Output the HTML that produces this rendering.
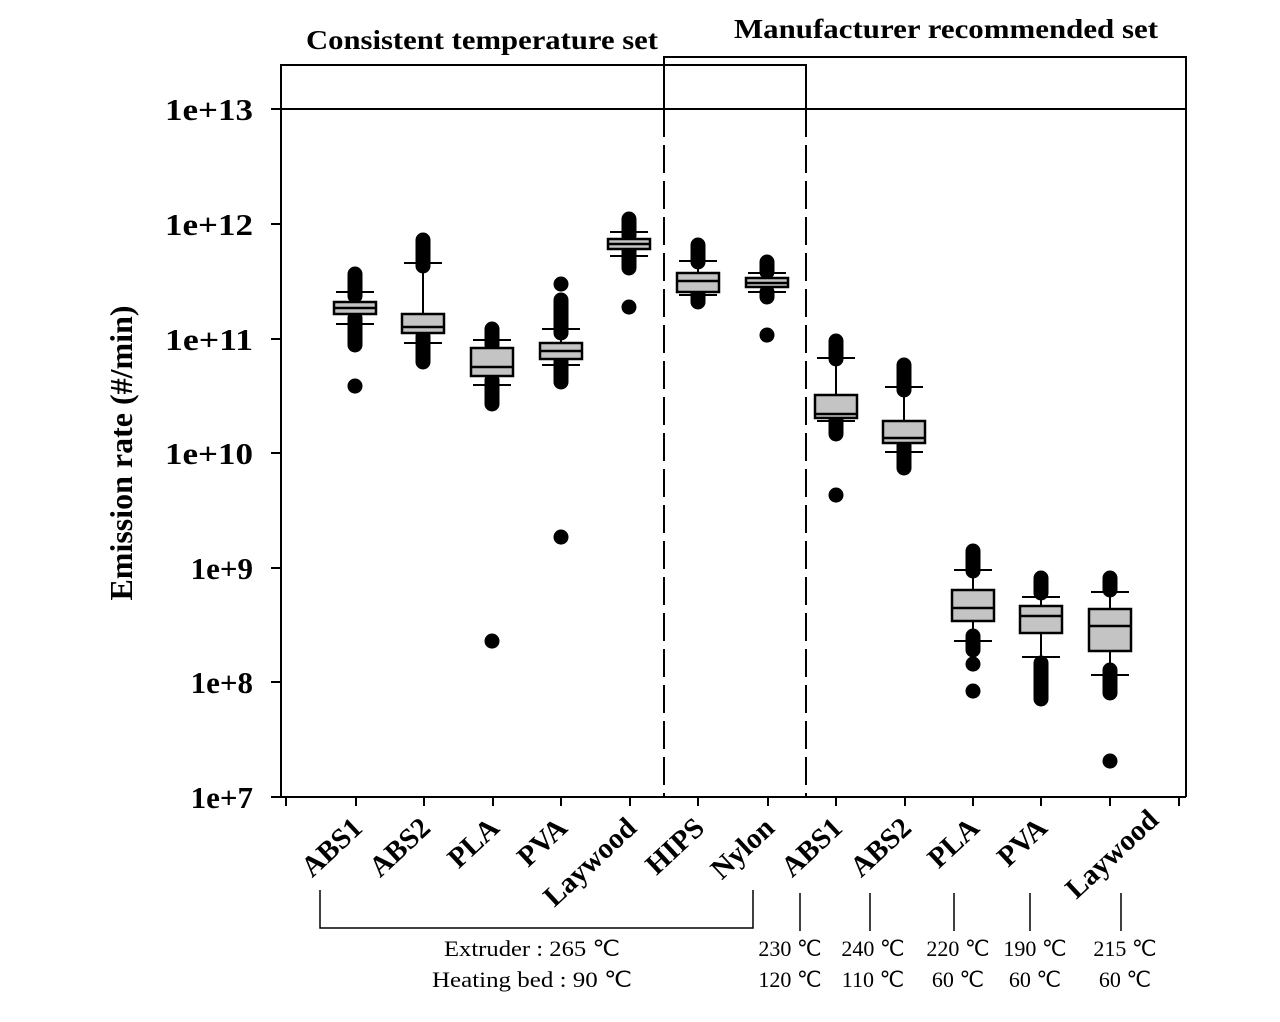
<!DOCTYPE html>
<html><head><meta charset="utf-8"><style>body{margin:0;background:#fff}svg{display:block}</style></head><body>
<svg width="1280" height="1022" xmlns="http://www.w3.org/2000/svg" font-family="Liberation Serif, serif">
<rect width="1280" height="1022" fill="#fff"/>
<g stroke="#000" stroke-width="2" fill="none">
<polyline points="281,797 281,65 806,65 806,109"/>
<polyline points="664,109 664,57 1186,57 1186,797"/>
<line x1="271" y1="109" x2="1186" y2="109"/>
<line x1="281" y1="797" x2="1186" y2="797"/>
<line x1="664" y1="109" x2="664" y2="797" stroke-dasharray="28,8"/>
<line x1="806" y1="109" x2="806" y2="797" stroke-dasharray="28,8"/>
<path d="M271,224h10M271,339h10M271,453h10M271,568h10M271,682h10M271,797h10"/>
<path d="M286,797v9M356,797v9M424,797v9M493,797v9M561,797v9M630,797v9M698,797v9M768,797v9M836,797v9M905,797v9M973,797v9M1041,797v9M1110,797v9M1179,797v9"/>
<polyline points="320,890 320,928 753,928 753,890" stroke-width="1.5"/>
<path d="M800,893v38M870,893v38M954,893v38M1030,893v38M1121,893v38" stroke-width="1.5"/>
</g>
<!-- whiskers and caps -->
<g stroke="#000" stroke-width="2" fill="none">
<path d="M355,292V324M336,292h38M336,324h38"/>
<path d="M423,263V343M404,263h38M404,343h38"/>
<path d="M492,340V385M473,340h38M473,385h38"/>
<path d="M561,329V365M542,329h38M542,365h38"/>
<path d="M629,232V256M610,232h38M610,256h38"/>
<path d="M698,261V295M679,261h38M679,295h38"/>
<path d="M767,273V292M748,273h38M748,292h38"/>
<path d="M836,358V421M817,358h38M817,421h38"/>
<path d="M904,387V452M885,387h38M885,452h38"/>
<path d="M973,570V641M954,570h38M954,641h38"/>
<path d="M1041,597V657M1022,597h38M1022,657h38"/>
<path d="M1110,592V675M1091,592h38M1091,675h38"/>
</g>
<!-- outliers -->
<g stroke="#000" stroke-width="15" stroke-linecap="round">
<path d="M355,274V296M355,318V345M355,386V386.1"/>
<path d="M423,240V266M423,336V362"/>
<path d="M492,329V345M492,380V404M492,641V641.1"/>
<path d="M561,284V284.1M561,300V333M561,360V382M561,537V537.1"/>
<path d="M629,219V236M629,250V268M629,307V307.1"/>
<path d="M698,245V262M698,292V302"/>
<path d="M767,262V272M767,292V297M767,335V335.1"/>
<path d="M836,341V359M836,418V434M836,495V495.1"/>
<path d="M904,365V390M904,445V468"/>
<path d="M973,551V571M973,636V650M973,664V664.1M973,691V691.1"/>
<path d="M1041,578V593M1041,663V699"/>
<path d="M1110,578V590M1110,670V693M1110,761V761.1"/>
</g>
<!-- boxes -->
<g stroke="#000" stroke-width="2.5" fill="#c4c4c4">
<rect x="334" y="302" width="42" height="12"/><path d="M334,308h42"/>
<rect x="402" y="314" width="42" height="19"/><path d="M402,327h42"/>
<rect x="471" y="348" width="42" height="28"/><path d="M471,367h42"/>
<rect x="540" y="343" width="42" height="16"/><path d="M540,351h42"/>
<rect x="608" y="239" width="42" height="10"/><path d="M608,244h42"/>
<rect x="677" y="273" width="42" height="19"/><path d="M677,281h42"/>
<rect x="746" y="278" width="42" height="9"/><path d="M746,283h42"/>
<rect x="815" y="395" width="42" height="23"/><path d="M815,414h42"/>
<rect x="883" y="421" width="42" height="22"/><path d="M883,438h42"/>
<rect x="952" y="590" width="42" height="31"/><path d="M952,608h42"/>
<rect x="1020" y="606" width="42" height="27"/><path d="M1020,616h42"/>
<rect x="1089" y="609" width="42" height="42"/><path d="M1089,626h42"/>
</g>
<g font-weight="bold" font-size="31" text-anchor="end">
<text x="253" y="120" textLength="88" lengthAdjust="spacingAndGlyphs">1e+13</text><text x="253" y="235" textLength="88" lengthAdjust="spacingAndGlyphs">1e+12</text><text x="253" y="350" textLength="88" lengthAdjust="spacingAndGlyphs">1e+11</text>
<text x="253" y="464" textLength="88" lengthAdjust="spacingAndGlyphs">1e+10</text><text x="253" y="579">1e+9</text><text x="253" y="693">1e+8</text><text x="253" y="808">1e+7</text>
</g>
<text transform="translate(132,453) rotate(-90)" text-anchor="middle" font-weight="bold" font-size="32">Emission rate (#/min)</text>
<text x="482" y="49" text-anchor="middle" font-weight="bold" font-size="27" textLength="352" lengthAdjust="spacingAndGlyphs">Consistent temperature set</text>
<text x="946" y="38" text-anchor="middle" font-weight="bold" font-size="27" textLength="424" lengthAdjust="spacingAndGlyphs">Manufacturer recommended set</text>
<g font-weight="bold" font-size="29" text-anchor="end">
<text transform="translate(364,830) rotate(-43)">ABS1</text>
<text transform="translate(432,830) rotate(-43)">ABS2</text>
<text transform="translate(501,830) rotate(-43)">PLA</text>
<text transform="translate(569,830) rotate(-43)">PVA</text>
<text transform="translate(638,830) rotate(-43)">Laywood</text>
<text transform="translate(706,830) rotate(-43)">HIPS</text>
<text transform="translate(776,830) rotate(-43)">Nylon</text>
<text transform="translate(844,830) rotate(-43)">ABS1</text>
<text transform="translate(913,830) rotate(-43)">ABS2</text>
<text transform="translate(981,830) rotate(-43)">PLA</text>
<text transform="translate(1049,830) rotate(-43)">PVA</text>
<text transform="translate(1160,822) rotate(-43)">Laywood</text>
</g>
<g font-size="22" text-anchor="middle">
<text x="532" y="956" textLength="176" lengthAdjust="spacingAndGlyphs">Extruder : 265 ℃</text>
<text x="532" y="987" textLength="200" lengthAdjust="spacingAndGlyphs">Heating bed : 90 ℃</text>
<text x="790" y="956">230 ℃</text><text x="873" y="956">240 ℃</text><text x="958" y="956">220 ℃</text><text x="1035" y="956">190 ℃</text><text x="1125" y="956">215 ℃</text>
<text x="790" y="987">120 ℃</text><text x="873" y="987">110 ℃</text><text x="958" y="987">60 ℃</text><text x="1035" y="987">60 ℃</text><text x="1125" y="987">60 ℃</text>
</g>
</svg>
</body></html>
